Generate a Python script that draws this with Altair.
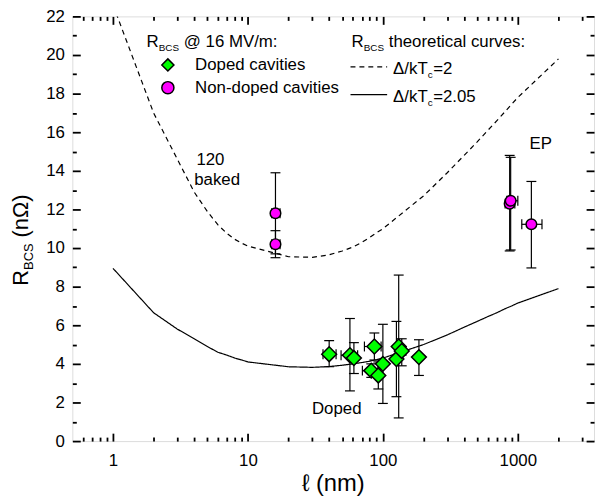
import altair as alt
import pandas as pd

# ---------------- data ----------------
curve_x = [1, 2, 3, 4, 5, 6, 7, 8, 9, 10, 20, 30, 40, 50, 60, 70, 80, 90, 100,
           200, 300, 400, 500, 600, 700, 800, 900, 1000, 2000]
curve_dashed = [22.6, 17.0, 14.6, 12.9, 11.9, 11.2, 10.75, 10.45, 10.25, 10.1, 9.55, 9.52,
                9.65, 9.85, 10.05, 10.3, 10.55, 10.8, 11.0, 12.7, 13.9, 14.8, 15.5, 16.1,
                16.6, 17.05, 17.45, 17.8, 19.8]
curve_solid = [8.95, 6.65, 5.8, 5.3, 4.9, 4.6, 4.45, 4.3, 4.2, 4.1, 3.85, 3.82, 3.86, 3.93,
               4.0, 4.07, 4.14, 4.22, 4.3, 5.0, 5.5, 5.9, 6.2, 6.45, 6.65, 6.85, 7.0, 7.15, 7.9]

doped_x = [40, 57, 61, 82, 86.5, 92.5, 100, 126, 131, 138, 185]
doped_y = [4.5, 4.45, 4.3, 3.65, 4.9, 3.4, 4.0, 4.25, 4.9, 4.67, 4.35]
doped_ylo = [3.85, 2.6, 3.5, 3.3, 4.2, 2.7, 1.95, 2.3, 1.2, 3.9, 3.4]
doped_yhi = [5.2, 6.35, 5.1, 4.0, 5.6, 4.1, 6.05, 6.2, 8.6, 5.3, 5.25]
doped_xlo = [36, 49, 61, 70.5, 73, 92.5, 100, 126, 131, 128, 185]
doped_xhi = [45, 65, 61, 92, 97, 92.5, 100, 126, 131, 148, 185]

nd_x = [16, 16, 870, 885, 1260]
nd_y = [11.8, 10.2, 12.3, 12.45, 11.23]
nd_ylo = [9.7, 9.5, 9.85, 9.9, 8.97]
nd_yhi = [13.9, 10.9, 14.8, 14.7, 13.45]
nd_xlo = [15.0, 15.0, 805, 830, 1070]
nd_xhi = [17.3, 17.3, 950, 1000, 1510]

series_names = ["Doped cavities", "Non-doped cavities"]
curve_names = ["2", "2.05"]

x_major = [1, 10, 100, 1000]
x_minor = [0.6, 0.7, 0.8, 0.9, 2, 3, 4, 5, 6, 7, 8, 9, 20, 30, 40, 50, 60, 70, 80, 90,
           200, 300, 400, 500, 600, 700, 800, 900, 2000, 3000]
y_major = list(range(0, 23, 2))
y_minor = list(range(1, 22, 2))

# ---------------- frames ----------------
curves = pd.DataFrame({
    "x": curve_x * 2,
    "y": curve_dashed + curve_solid,
    "curve": [curve_names[0]] * len(curve_x) + [curve_names[1]] * len(curve_x),
})
doped = pd.DataFrame({"x": doped_x, "y": doped_y, "ylo": doped_ylo, "yhi": doped_yhi,
                      "xlo": doped_xlo, "xhi": doped_xhi, "type": series_names[0]})
nd = pd.DataFrame({"x": nd_x, "y": nd_y, "ylo": nd_ylo, "yhi": nd_yhi,
                   "xlo": nd_xlo, "xhi": nd_xhi, "type": series_names[1]})
pts = pd.concat([doped, nd], ignore_index=True)
pts_xerr = pts[pts["xlo"] < pts["xhi"]]

W, H = 527, 429
FONT = "Liberation Sans"
xs = alt.Scale(type="log", domain=[0.5, 3670], nice=False)
ys = alt.Scale(domain=[0, 22], nice=False)


def X(field="x"):
    return alt.X(f"{field}:Q", scale=xs, axis=None)


def Y(field="y"):
    return alt.Y(f"{field}:Q", scale=ys, axis=None)


# ---------------- axes (inward ticks via offset) ----------------
tick_common = dict(grid=False, domain=False, labels=False, title="", ticks=True,
                   tickColor="black", tickWidth=1.8)


def axis_layer(xaxis, yaxis):
    return alt.Chart(curves).mark_point(opacity=0).encode(
        x=alt.X("x:Q", scale=xs, axis=xaxis),
        y=alt.Y("y:Q", scale=ys, axis=yaxis),
    )


ax_labels = axis_layer(
    alt.Axis(orient="bottom", values=x_major, format="d", ticks=False, tickSize=0,
             domain=False, grid=False, labelFontSize=17, labelPadding=12,
             labelColor="black", labelFont=FONT, title=""),
    alt.Axis(orient="left", values=y_major, ticks=False, tickSize=0, domain=False,
             grid=False, labelFontSize=17, labelPadding=8, labelColor="black",
             labelFont=FONT, title=""),
)
ax_maj1 = axis_layer(alt.Axis(orient="top", offset=-H, values=x_major, tickSize=8, **tick_common),
                     alt.Axis(orient="right", offset=-W, values=y_major, tickSize=8, **tick_common))
ax_min1 = axis_layer(alt.Axis(orient="top", offset=-H, values=x_minor, tickSize=4, **tick_common),
                     alt.Axis(orient="right", offset=-W, values=y_minor, tickSize=4, **tick_common))
ax_maj2 = axis_layer(alt.Axis(orient="bottom", offset=-H, values=x_major, tickSize=8, **tick_common),
                     alt.Axis(orient="left", offset=-W, values=y_major, tickSize=8, **tick_common))
ax_min2 = axis_layer(alt.Axis(orient="bottom", offset=-H, values=x_minor, tickSize=4, **tick_common),
                     alt.Axis(orient="left", offset=-W, values=y_minor, tickSize=4, **tick_common))

# ---------------- curves ----------------
lines = alt.Chart(curves).mark_line(color="black", strokeWidth=1.2, clip=True).encode(
    x=X(), y=Y(),
    strokeDash=alt.StrokeDash(
        "curve:N",
        scale=alt.Scale(domain=curve_names, range=[[5, 4], [1, 0]]),
        legend=alt.Legend(orient="none", legendX=280, legendY=42.5, title=None,
                          symbolType="stroke", symbolSize=1369, symbolStrokeWidth=1.2,
                          symbolStrokeColor="black", labelExpr="''", clipHeight=17,
                          rowPadding=11, padding=0, labelOffset=7),
    ),
)

# ---------------- error bars ----------------
ebar_color = "black"
vrule = alt.Chart(pts).mark_rule(color=ebar_color, strokeWidth=1.2).encode(
    x=X(), y=Y("ylo"), y2="yhi:Q")
vcap_lo = alt.Chart(pts).mark_tick(orient="horizontal", size=10, thickness=1.2,
                                   color=ebar_color, opacity=1).encode(x=X(), y=Y("ylo"))
vcap_hi = alt.Chart(pts).mark_tick(orient="horizontal", size=10, thickness=1.2,
                                   color=ebar_color, opacity=1).encode(x=X(), y=Y("yhi"))
hrule = alt.Chart(pts_xerr).mark_rule(color=ebar_color, strokeWidth=1.2).encode(
    x=X("xlo"), x2="xhi:Q", y=Y())
hcap_lo = alt.Chart(pts_xerr).mark_tick(orient="vertical", size=10, thickness=1.2,
                                        color=ebar_color, opacity=1).encode(x=X("xlo"), y=Y())
hcap_hi = alt.Chart(pts_xerr).mark_tick(orient="vertical", size=10, thickness=1.2,
                                        color=ebar_color, opacity=1).encode(x=X("xhi"), y=Y())

# ---------------- points ----------------
pt_legend = alt.Legend(orient="none", legendX=88, legendY=40.5, title=None,
                       labelFontSize=17, labelFont=FONT, labelColor="black",
                       symbolSize=150, symbolStrokeColor="black", symbolStrokeWidth=1.5,
                       labelOffset=19, rowPadding=5, clipHeight=17, padding=0)
color_enc = alt.Color("type:N", scale=alt.Scale(domain=series_names, range=["#00ff00", "#ff00ff"]),
                      legend=pt_legend)
shape_enc = alt.Shape("type:N", scale=alt.Scale(domain=series_names, range=["diamond", "circle"]),
                      legend=pt_legend)
p_doped = alt.Chart(doped).mark_point(filled=True, size=225, stroke="black", strokeWidth=1.5,
                                      opacity=1).encode(x=X(), y=Y(), color=color_enc, shape=shape_enc)
p_nd = alt.Chart(nd).mark_point(filled=True, size=115, stroke="black", strokeWidth=1.5,
                                opacity=1).encode(x=X(), y=Y(), color=color_enc, shape=shape_enc)

# ---------------- annotations ----------------
notes = pd.DataFrame({
    "x": [4.15, 4.0, 1480, 45.5],
    "y": [14.55, 13.5, 15.38, 1.65],
    "t": ["120", "baked", "EP", "Doped"],
    "a": ["left", "left", "center", "center"],
})
note_layers = []
for _, r in notes.iterrows():
    note_layers.append(
        alt.Chart(pd.DataFrame([r])).mark_text(fontSize=17, font=FONT, color="black",
                                               align=r["a"], baseline="middle").encode(
            x=X(), y=Y(), text="t:N"))

dummy = pd.DataFrame({"d": [0]})


def txt(s, x, y, size=17, align="left", baseline="alphabetic", angle=None):
    kw = dict(text=s, fontSize=size, align=align, baseline=baseline, color="black", font=FONT)
    if angle is not None:
        kw["angle"] = angle
    return alt.Chart(dummy).mark_text(**kw).encode(x=alt.value(x), y=alt.value(y))


labels = [
    # legend titles
    txt("R", 75, 31), txt("BCS", 87.3, 35, size=10), txt("@ 16 MV/m:", 112.6, 31),
    txt("R", 282, 31), txt("BCS", 294.3, 35, size=10), txt("theoretical curves:", 319.6, 31),
    # line legend labels
    txt("Δ/kT", 324, 58), txt("c", 359, 62, size=10), txt("=2", 364.5, 58),
    txt("Δ/kT", 324, 86), txt("c", 359, 90, size=10), txt("=2.05", 364.5, 86),
    # y title
    txt("R", -45, 272, size=22, angle=270), txt("BCS", -40, 256.1, size=13, angle=270),
    txt("(nΩ)", -45, 223.3, size=22, angle=270),
    # x title
    txt("ℓ (nm)", W / 2, 472, size=24, align="center", baseline="middle"),
]

chart = alt.layer(
    ax_labels, ax_maj1, ax_min1, ax_maj2, ax_min2,
    lines, vrule, vcap_lo, vcap_hi, hrule, hcap_lo, hcap_hi, p_nd, p_doped,
    *note_layers, *labels,
).resolve_axis(x="independent", y="independent").properties(
    width=W, height=H,
    padding={"left": 65, "top": 6, "right": 3, "bottom": 55},
    autosize=alt.AutoSizeParams(type="none"),
).configure_view(stroke="black", strokeWidth=1.6).configure(font=FONT)

chart.save("out.html", embed_options={"renderer": "svg", "actions": False})
